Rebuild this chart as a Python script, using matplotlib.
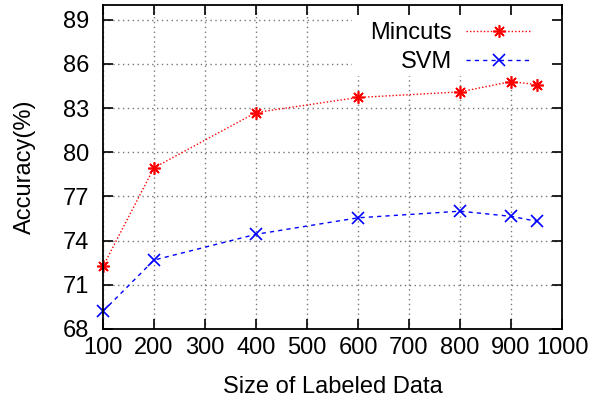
import matplotlib
matplotlib.use("Agg")
import matplotlib.pyplot as plt
from matplotlib.patches import Rectangle

sizes = [100, 200, 400, 600, 800, 900, 950]
mincuts = [72.25, 78.95, 82.7, 83.72, 84.1, 84.8, 84.6]
svm = [69.2, 72.68, 74.43, 75.55, 76.0, 75.65, 75.32]
xticks = [100, 200, 300, 400, 500, 600, 700, 800, 900, 1000]
yticks = [68, 71, 74, 77, 80, 83, 86, 89]

plt.rcParams['font.family'] = ['Liberation Sans', 'DejaVu Sans']
FS = 17

fig = plt.figure(figsize=(5.99, 4.0), dpi=100)
ax = fig.add_axes([103/599, 71/400, (562-103)/599, (329-5)/400])

ax.set_xlim(100, 1000)
ax.set_ylim(68, 90)
ax.set_xticks(xticks)
ax.set_yticks(yticks)

# grid (dotted gray), drawn below a white legend area
for xv in xticks:
    ax.axvline(xv, color='#777777', lw=1.0, ls=(0, (1, 2.5)), zorder=0.5)
for yv in yticks:
    ax.axhline(yv, color='#777777', lw=1.0, ls=(0, (1, 2.5)), zorder=0.5)
ax.add_patch(Rectangle((0.5425, 0.781), 0.46, 0.22, transform=ax.transAxes,
                       facecolor='white', edgecolor='none', zorder=0.8))

ax.plot(sizes, mincuts, color='red', ls=(0, (1, 1.5)), lw=1.0,
        marker=(8, 2, 0), markersize=9, markeredgewidth=1.2, label='Mincuts',
        clip_on=False, zorder=3)
ax.plot(sizes, svm, color='blue', ls=(0, (3, 3)), lw=1.0,
        marker='x', markersize=8, markeredgewidth=1.2, label='SVM',
        clip_on=False, zorder=3)

ax.tick_params(direction='in', length=7.5, width=1.2, top=True, right=True,
               labelsize=FS)
ax.tick_params(axis='y', pad=10)
ax.tick_params(axis='x', pad=6)
for s in ax.spines.values():
    s.set_linewidth(1.3)
    s.set_zorder(4)

ax.set_xlabel('Size of Labeled Data', fontsize=FS, labelpad=12)
ax.set_ylabel('Accuracy(%)', fontsize=FS, labelpad=19.5)

leg = ax.legend(loc='upper right', bbox_to_anchor=(0.981, 1.013), frameon=False,
                markerfirst=False, handlelength=2.8, handletextpad=0.6,
                labelspacing=0.29, fontsize=FS)

fig.savefig('out.png', dpi=100)
